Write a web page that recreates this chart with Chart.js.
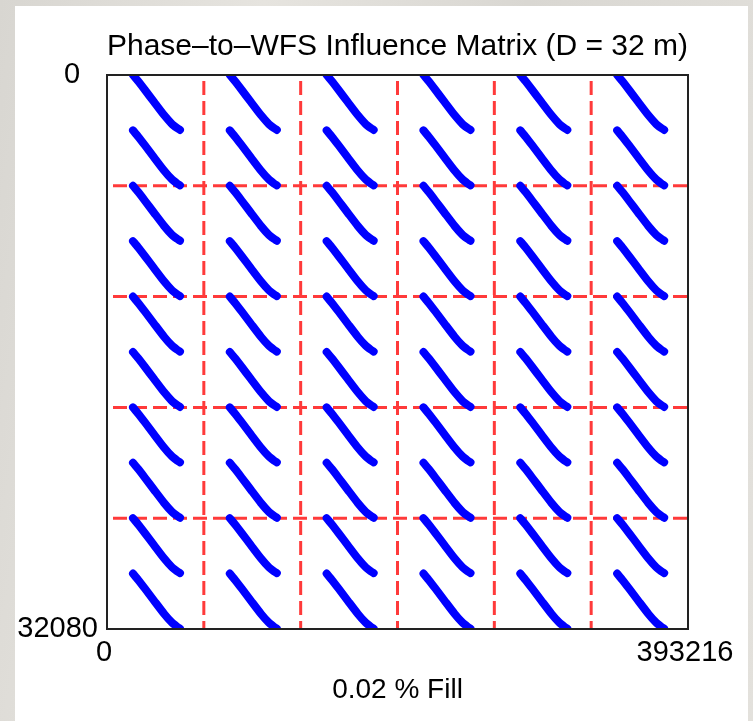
<!DOCTYPE html>
<html>
<head>
<meta charset="utf-8">
<title>Phase-to-WFS Influence Matrix</title>
<script src="https://cdn.jsdelivr.net/npm/chart.js@4.4.1/dist/chart.umd.min.js"></script>
<style>
  html, body { margin: 0; padding: 0; width: 753px; height: 721px; overflow: hidden; }
  body { background: linear-gradient(100deg, #d8d6d1 0%, #e6e4df 30%, #d9d7d2 60%, #e3e1dc 100%); }
  #panel { position: absolute; left: 15px; top: 6px; width: 733px; height: 715px; background: #fff; }
  #plot { position: absolute; left: 0; top: 0; }
</style>
</head>
<body>
<div id="panel"></div>
<canvas id="plot" width="753" height="721"></canvas>
<script>
// Matrix size: WFS slope measurements (rows) x phase points (columns)
const N_ROWS = 32080;
const N_COLS = 393216;

// One column block per phase screen, one row block per WFS
const colBlocks = [0, 65536, 131072, 196608, 262144, 327680];
const rowBlocks = [0, 6416, 12832, 19248, 25664];
// x and y slopes of a WFS sit in two sub-blocks
const slopeOffsets = [0, 3208];

// Non-zero band inside one sub-block (relative column / row)
const bandCols = [17600, 21000, 25700, 31800, 38600, 44000, 47400, 49400];
const bandRows = [0, 350, 870, 1560, 2320, 2840, 3070, 3180];

// Dashed block partitions
const colDividers = [65536, 131072, 196608, 262144, 327680];
const rowDividers = [6416, 12832, 19248, 25664];

const xTicks = [0, 393216];
const yTicks = [0, 32080];

const FONT = { family: "'Liberation Sans', Arial, sans-serif", size: 29, weight: 'normal' };

const bandSets = [];
rowBlocks.forEach(r0 => {
    slopeOffsets.forEach(s0 => {
        colBlocks.forEach(c0 => {
            bandSets.push({
                data: bandCols.map((c, i) => ({ x: c0 + c, y: r0 + s0 + bandRows[i] })),
                showLine: true,
                borderColor: '#0000ff',
                borderWidth: 8,
                borderCapStyle: 'round',
                borderJoinStyle: 'round',
                pointRadius: 0,
                tension: 0.2,
                clip: 0,
                order: 0
            });
        });
    });
});

const dashStyle = {
    showLine: true,
    borderColor: '#ff3a3a',
    borderWidth: 3,
    borderDash: [14, 6],
    borderDashOffset: 14,
    pointRadius: 0,
    clip: 0,
    order: 1
};
const dividerSets = [
    ...colDividers.map(c => ({ ...dashStyle, data: [{ x: c, y: 0 }, { x: c, y: N_ROWS }] })),
    ...rowDividers.map(r => ({ ...dashStyle, data: [{ x: 0, y: r }, { x: N_COLS, y: r }] }))
];

// plot frame on top of the marks
const frame = {
    id: 'frame',
    afterDatasetsDraw(chart) {
        const { ctx, chartArea: a } = chart;
        ctx.save();
        ctx.strokeStyle = '#222';
        ctx.lineWidth = 2;
        ctx.strokeRect(a.left, a.top, a.right - a.left, a.bottom - a.top);
        ctx.restore();
    }
};

// two left axes: the bottom label sits against the frame, the top one further out
const yAxis = (tickValue, width, weight, ticks) => ({
    type: 'linear',
    position: 'left',
    min: 0,
    max: N_ROWS,
    reverse: true,
    weight,
    grid: { display: false, drawTicks: false },
    border: { display: false },
    afterBuildTicks: s => { s.ticks = [{ value: tickValue }]; },
    afterFit: s => { s.width = width; },
    ticks: { color: '#000', font: FONT, autoSkip: false, callback: v => String(v), ...ticks }
});

new Chart(document.getElementById('plot'), {
    type: 'scatter',
    data: { datasets: [...bandSets, ...dividerSets] },
    options: {
        responsive: false,
        animation: false,
        devicePixelRatio: 1,
        events: [],
        layout: { padding: { left: 0, right: 65, top: 0, bottom: 0 } },
        plugins: {
            legend: { display: false },
            tooltip: { enabled: false },
            title: {
                display: true,
                fullSize: false,
                text: 'Phase\u2013to\u2013WFS Influence Matrix (D = 32 m)',
                color: '#000',
                font: { ...FONT, size: 30 },
                padding: { top: 29, bottom: 10 }
            }
        },
        scales: {
            x: {
                type: 'linear',
                position: 'bottom',
                min: 0,
                max: N_COLS,
                grid: { display: false, drawTicks: false },
                border: { display: false },
                afterBuildTicks: s => { s.ticks = xTicks.map(v => ({ value: v })); },
                afterFit: s => { s.height = 92; },
                ticks: { color: '#000', font: FONT, padding: 7, labelOffset: -3, maxRotation: 0, autoSkip: false, callback: v => String(v) },
                title: { display: true, text: '0.02 % Fill', color: '#000', font: { ...FONT, size: 28 }, padding: { top: 0, bottom: 14 } }
            },
            y: yAxis(yTicks[1], 91, 0, { padding: 9 }),
            yTop: yAxis(yTicks[0], 16, 1, { mirror: true, padding: 48 })
        }
    },
    plugins: [frame]
});
</script>
</body>
</html>
